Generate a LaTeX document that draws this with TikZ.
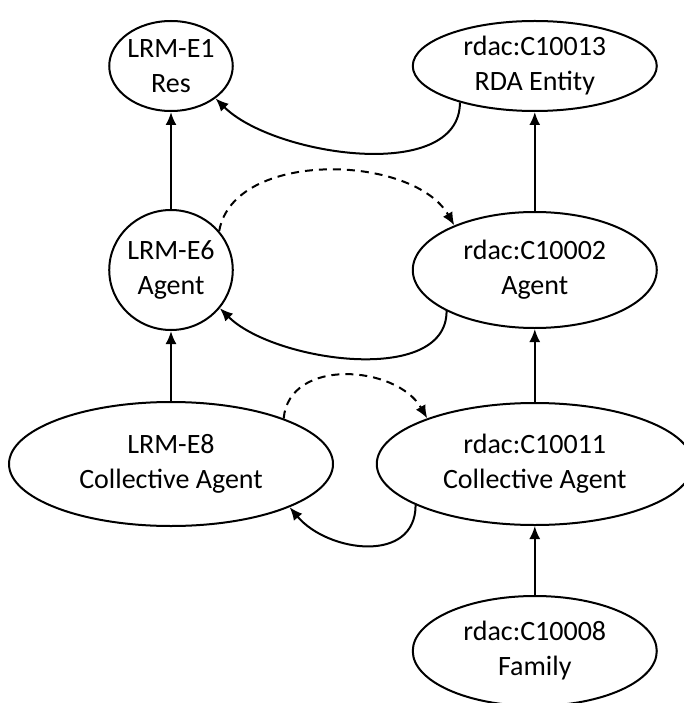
\documentclass[tikz,border=0pt]{standalone}
\usepackage{fontspec}
\setmainfont{Carlito}
\usepackage{tikz}
\usetikzlibrary{shapes, arrows.meta, positioning}

\begin{document}
\begin{tikzpicture}[x=1pt, y=1pt, >={Latex[length=13pt, width=11pt]}, line width=2pt,
        ent/.style={draw, ellipse, inner sep=0pt, align=center,
            font=\fontsize{28}{35}\selectfont},
        small/.style={minimum width=118pt, minimum height=90pt},
        wide/.style={minimum width=244pt},
        dash line/.style={dash pattern=on 8pt off 6pt}]
        \useasboundingbox (0,0) rectangle (684,-703);

        \node (lrmres) [ent, small] at (171,-66) {LRM-E1\\Res};
        \node (rdaent) [ent, wide, minimum height=90pt, right=178pt of lrmres] {rdac:C10013\\RDA Entity};
        \node (lrmagent) [ent, small, minimum height=120pt, below=97pt of lrmres] {LRM-E6\\Agent};
        \node (rdaagent) [ent, wide, minimum height=116pt, below=99pt of rdaent] {rdac:C10002\\Agent};
        \node (lrmcoll) [ent, minimum width=324pt, minimum height=124pt, below=70pt of lrmagent] {LRM-E8\\Collective Agent};
        \node (rdacoll) [ent, minimum width=316pt, minimum height=122pt, below=73pt of rdaagent] {rdac:C10011\\Collective Agent};
        \node (rdafam) [ent, wide, minimum height=110pt, below=69pt of rdacoll] {rdac:C10008\\Family};

        \draw[->] (lrmagent) -- (lrmres);
        \draw[->] (rdaagent) -- (rdaent);
        \draw[->] (lrmcoll) -- (lrmagent);
        \draw[->] (rdacoll) -- (rdaagent);
        \draw[->] (rdafam) -- (rdacoll);

        \draw[->] (rdaent.-154) to[out=-90, in=-45, looseness=0.85] (lrmres.-36);
        \draw[->, dash line] (lrmagent.39) to[out=80, in=120, looseness=0.9] (rdaagent.151);
        \draw[->] (rdaagent.-155) to[out=-90, in=-45, looseness=0.85] (lrmagent.-38);
        \draw[->, dash line] (lrmcoll.22) to[out=85, in=120, looseness=1.1] (rdacoll.157);
        \draw[->] (rdacoll.-161) to[out=-90, in=-50, looseness=1.2] (lrmcoll.-20);
    \end{tikzpicture}
\end{document}
